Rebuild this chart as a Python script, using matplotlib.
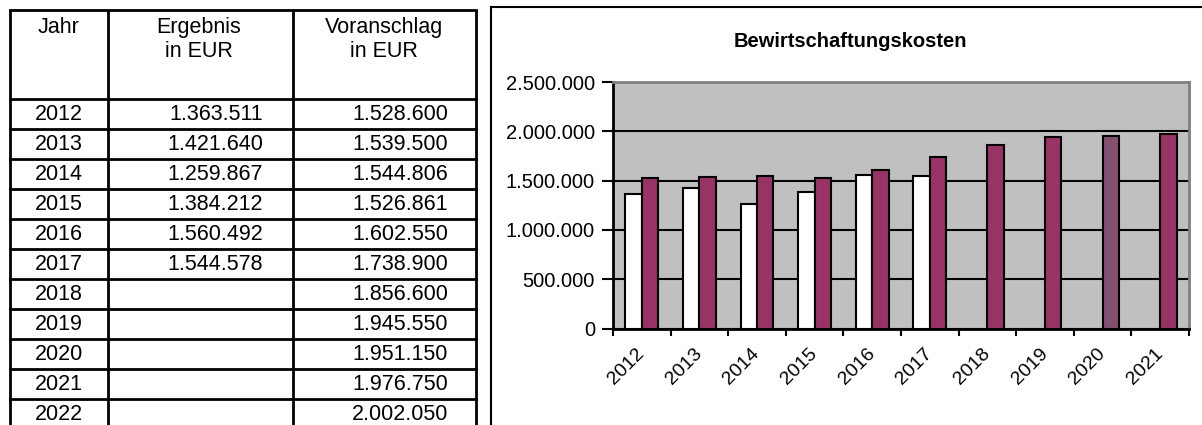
import matplotlib.pyplot as plt
from matplotlib.ticker import FuncFormatter, FixedLocator

plt.rcParams['font.family'] = ['Liberation Sans', 'DejaVu Sans']

# table data
jahre = [2012, 2013, 2014, 2015, 2016, 2017, 2018, 2019, 2020, 2021, 2022]
ergebnis = [1363511, 1421640, 1259867, 1384212, 1560492, 1544578,
            None, None, None, None, None]
voranschlag = [1528600, 1539500, 1544806, 1526861, 1602550, 1738900,
               1856600, 1945550, 1951150, 1976750, 2002050]

# chart shows 2012..2021
chart_jahre = jahre[:10]
chart_ergebnis = ergebnis[:10]
chart_voranschlag = voranschlag[:10]


def de_num(v):
    return f"{int(v):,}".replace(",", ".")


fig = plt.figure(figsize=(12.02, 4.25), dpi=100)

# -------------------------------
# background layer in pixel coords: table + chart frame
# -------------------------------
bg = fig.add_axes([0, 0, 1, 1])
bg.set_xlim(0, 1202)
bg.set_ylim(425, 0)
bg.axis('off')

col_x = [10, 108, 293, 476]
row_top = 99
row_h = 30.0
lw = 2

# outer / column lines
for x in col_x:
    bg.plot([x, x], [10, 425], color='black', lw=lw, solid_capstyle='butt')
bg.plot([col_x[0], col_x[-1]], [10, 10], color='black', lw=lw)
for i in range(len(jahre) + 1):
    y = row_top + i * row_h
    if y < 425:
        bg.plot([col_x[0], col_x[-1]], [y, y], color='black', lw=lw)

fs_tab = 15.5
bg.text(59, 27, 'Jahr', ha='center', va='center', fontsize=fs_tab)
bg.text(199, 27, 'Ergebnis', ha='center', va='center', fontsize=fs_tab)
bg.text(199, 51, 'in EUR', ha='center', va='center', fontsize=fs_tab)
bg.text(384, 27, 'Voranschlag', ha='center', va='center', fontsize=fs_tab)
bg.text(384, 51, 'in EUR', ha='center', va='center', fontsize=fs_tab)

for i, j in enumerate(jahre):
    yc = min(row_top + (i + 0.5) * row_h, 414)
    bg.text(59, yc, str(j), ha='center', va='center', fontsize=fs_tab)
    if ergebnis[i] is not None:
        bg.text(263, yc, de_num(ergebnis[i]), ha='right', va='center', fontsize=fs_tab)
    bg.text(448, yc, de_num(voranschlag[i]), ha='right', va='center', fontsize=fs_tab)

# chart frame
bg.plot([491, 1202], [7, 7], color='black', lw=1.5)
bg.plot([491, 491], [7, 425], color='black', lw=1.5)

bg.text(850, 41, 'Bewirtschaftungskosten', ha='center', va='center',
        fontsize=14.5, fontweight='bold')

# -------------------------------
# bar chart
# -------------------------------
ax = fig.add_axes([613 / 1202, 1 - 328.5 / 425, 576 / 1202, 246.5 / 425])
ax.set_facecolor('#C0C0C0')

w = 0.2857
xs = list(range(len(chart_jahre)))
erg_x = [x - w / 2 for x, v in zip(xs, chart_ergebnis) if v is not None]
erg_v = [v for v in chart_ergebnis if v is not None]
ax.bar(erg_x, erg_v, width=w, color='white', edgecolor='black', linewidth=1.5, zorder=3)

bar_colors = ['#993366'] * len(chart_jahre)
bar_colors[chart_jahre.index(2020)] = '#845070'
ax.bar([x + w / 2 for x in xs], chart_voranschlag, width=w, color=bar_colors,
       edgecolor='black', linewidth=1.5, zorder=3)

ax.set_xlim(-0.5, len(chart_jahre) - 0.5)
ax.set_ylim(0, 2500000)
ax.set_yticks([0, 500000, 1000000, 1500000, 2000000, 2500000])
ax.yaxis.set_major_formatter(FuncFormatter(lambda v, p: de_num(v)))
ax.yaxis.grid(True, color='black', linewidth=1.5, zorder=1)
ax.set_axisbelow(True)

ax.set_xticks(xs)
ax.set_xticklabels([str(j) for j in chart_jahre], rotation=45, ha='right',
                   va='center', rotation_mode='anchor', fontsize=14)
ax.tick_params(axis='x', which='major', length=0, pad=16)
ax.xaxis.set_minor_locator(FixedLocator([x - 0.5 for x in range(len(chart_jahre) + 1)]))
ax.tick_params(axis='x', which='minor', length=5, width=1.5, color='black')
ax.tick_params(axis='y', length=8, width=1.5, pad=5, labelsize=14.5)

for s in ['left', 'bottom']:
    ax.spines[s].set_color('black')
    ax.spines[s].set_linewidth(2)
for s in ['top', 'right']:
    ax.spines[s].set_color('#808080')
    ax.spines[s].set_linewidth(2)

plt.savefig('out.png', dpi=100)
